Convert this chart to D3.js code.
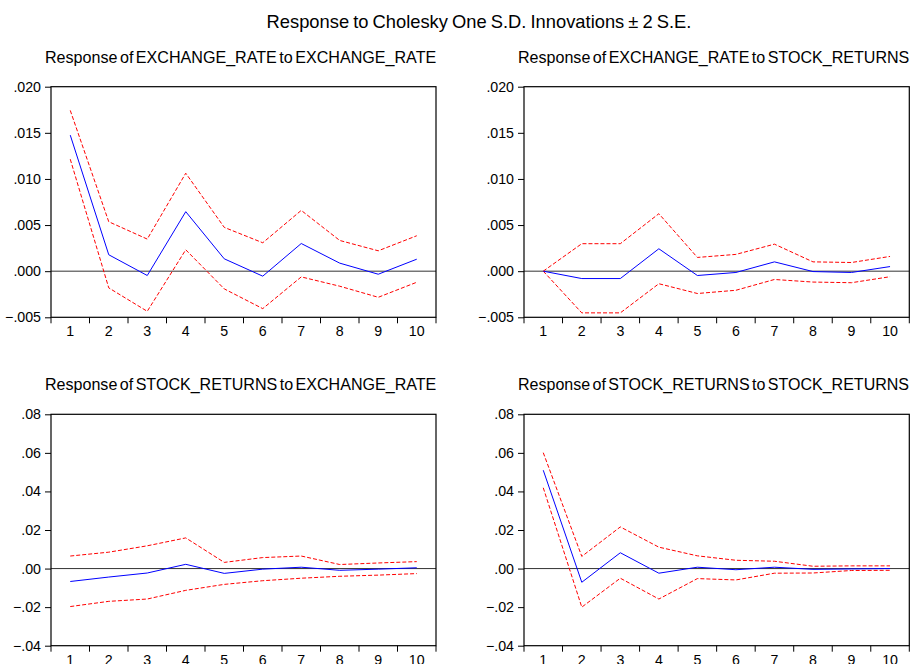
<!DOCTYPE html>
<html>
<head>
<meta charset="utf-8">
<script src="https://cdn.jsdelivr.net/npm/d3@7"></script>
<style>
  html, body { margin: 0; padding: 0; background: #fff; }
  svg { display: block; font-family: "Liberation Sans", Arial, sans-serif; }
</style>
</head>
<body>
<svg id="chart" width="911" height="664"></svg>
<script>
// Forecast horizon (periods)
const periods = [1, 2, 3, 4, 5, 6, 7, 8, 9, 10];

// Response of EXCHANGE_RATE to EXCHANGE_RATE
const erEr     = [0.01475, 0.00178, -0.00047, 0.00645, 0.00134, -0.00054, 0.00300, 0.00087, -0.00033, 0.00130];
const erErHigh = [0.01743, 0.00536, 0.00348, 0.01062, 0.00475, 0.00308, 0.00659, 0.00333, 0.00221, 0.00384];
const erErLow  = [0.01214, -0.00181, -0.00435, 0.00232, -0.00192, -0.00406, -0.00062, -0.00163, -0.00283, -0.00120];

// Response of EXCHANGE_RATE to STOCK_RETURNS
const erSr     = [0.0, -0.00080, -0.00080, 0.00243, -0.00047, -0.00014, 0.00101, -0.00004, -0.00014, 0.00050];
const erSrHigh = [0.0, 0.00298, 0.00298, 0.00623, 0.00149, 0.00182, 0.00293, 0.00101, 0.00094, 0.00160];
const erSrLow  = [0.0, -0.00452, -0.00452, -0.00136, -0.00242, -0.00207, -0.00090, -0.00118, -0.00125, -0.00060];

// Response of STOCK_RETURNS to EXCHANGE_RATE
const srEr     = [-0.0067, -0.0044, -0.0023, 0.0022, -0.0025, -0.0003, 0.0007, -0.0009, -0.0003, 0.0004];
const srErHigh = [0.0065, 0.0085, 0.0118, 0.0159, 0.0032, 0.0057, 0.0065, 0.0021, 0.0029, 0.0036];
const srErLow  = [-0.0197, -0.0170, -0.0158, -0.0113, -0.0082, -0.0063, -0.0050, -0.0040, -0.0034, -0.0026];

// Response of STOCK_RETURNS to STOCK_RETURNS
const srSr     = [0.0510, -0.0071, 0.0082, -0.0024, 0.0007, -0.0006, 0.0007, -0.0004, -0.0002, 0.0000];
const srSrHigh = [0.0601, 0.0063, 0.0216, 0.0111, 0.0066, 0.0043, 0.0038, 0.0012, 0.0014, 0.0014];
const srSrLow  = [0.0419, -0.0200, -0.0050, -0.0158, -0.0052, -0.0059, -0.0024, -0.0023, -0.0010, -0.0009];

// Y-axis tick values
const ticksEr = [-0.005, 0.000, 0.005, 0.010, 0.015, 0.020];
const ticksSr = [-0.04, -0.02, 0.00, 0.02, 0.04, 0.06, 0.08];

const mainTitle = "Response to Cholesky One S.D. Innovations \u00B1 2 S.E.";

const panels = [
  { title: "Response of EXCHANGE_RATE to EXCHANGE_RATE", mid: erEr, hi: erErHigh, lo: erErLow, ticks: ticksEr, digits: 3, col: 0, row: 0 },
  { title: "Response of EXCHANGE_RATE to STOCK_RETURNS", mid: erSr, hi: erSrHigh, lo: erSrLow, ticks: ticksEr, digits: 3, col: 1, row: 0 },
  { title: "Response of STOCK_RETURNS to EXCHANGE_RATE", mid: srEr, hi: srErHigh, lo: srErLow, ticks: ticksSr, digits: 2, col: 0, row: 1 },
  { title: "Response of STOCK_RETURNS to STOCK_RETURNS", mid: srSr, hi: srSrHigh, lo: srSrLow, ticks: ticksSr, digits: 2, col: 1, row: 1 }
];

const svg = d3.select("#chart");

// Scale a text element so that it spans the given width
function fitWidth(sel, baseSize, width) {
  const w = sel.node().getComputedTextLength();
  sel.attr("font-size", baseSize * width / w);
}

// Overall title
const mt = svg.append("text")
  .attr("x", 479).attr("y", 28)
  .attr("text-anchor", "middle")
  .attr("font-size", 16)
  .attr("word-spacing", -1)
  .attr("fill", "#000")
  .text(mainTitle);
fitWidth(mt, 16, 424);

// Plot-area geometry per column / row
const colX = [[51, 436], [524, 909.3]];
const rowY = [[86.7, 317.3], [414.3, 645.7]];
const tickFont = 14.2;

panels.forEach(p => {
  const [x0, x1] = colX[p.col];
  const [y0, y1] = rowY[p.row];
  const g = svg.append("g");

  const x = d3.scaleBand().domain(periods).range([x0, x1]).padding(0);
  const y = d3.scaleLinear().domain([p.ticks[0], p.ticks[p.ticks.length - 1]]).range([y1, y0]);
  const cx = d => x(d) + x.bandwidth() / 2;

  // Panel title
  const t = g.append("text")
    .attr("x", x0 - 6)
    .attr("y", y0 - 24)
    .attr("text-anchor", "start")
    .attr("font-size", 15)
    .attr("word-spacing", -2)
    .attr("fill", "#000")
    .text(p.title);
  fitWidth(t, 15, 391);

  // Zero reference line
  g.append("line")
    .attr("x1", x0).attr("x2", x1)
    .attr("y1", y(0)).attr("y2", y(0))
    .attr("stroke", "#333").attr("stroke-width", 1);

  // Y axis
  const fmt = d3.format("." + p.digits + "f");
  const yAxis = d3.axisLeft(y)
    .tickValues(p.ticks)
    .tickSize(6)
    .tickPadding(4)
    .tickFormat(v => fmt(v).replace("0.", "."));
  const ya = g.append("g").attr("transform", `translate(${x0},0)`).call(yAxis);
  ya.select(".domain").remove();
  ya.selectAll(".tick line").attr("stroke", "#000");
  ya.selectAll(".tick text").attr("font-size", tickFont).attr("fill", "#000")
    .attr("font-family", "Liberation Sans, Arial, sans-serif");

  // X axis: labels at band centres, tick marks at band edges
  const xAxis = d3.axisBottom(x).tickSize(0).tickPadding(9);
  const xa = g.append("g").attr("transform", `translate(0,${y1})`).call(xAxis);
  xa.select(".domain").remove();
  xa.selectAll(".tick text").attr("font-size", tickFont).attr("fill", "#000")
    .attr("font-family", "Liberation Sans, Arial, sans-serif");
  const edges = periods.map(d => x(d)).concat([x(periods[periods.length - 1]) + x.bandwidth()]);
  g.selectAll("line.xtick").data(edges).join("line")
    .attr("class", "xtick")
    .attr("x1", d => d).attr("x2", d => d)
    .attr("y1", y1).attr("y2", y1 + 6)
    .attr("stroke", "#000");

  // Lines
  const line = d3.line().x((d, i) => cx(periods[i])).y(d => y(d));
  g.append("path").datum(p.hi).attr("d", line)
    .attr("fill", "none").attr("stroke", "#ff0000").attr("stroke-width", 1)
    .attr("stroke-dasharray", "4,2");
  g.append("path").datum(p.lo).attr("d", line)
    .attr("fill", "none").attr("stroke", "#ff0000").attr("stroke-width", 1)
    .attr("stroke-dasharray", "4,2");
  g.append("path").datum(p.mid).attr("d", line)
    .attr("fill", "none").attr("stroke", "#0000ff").attr("stroke-width", 1);

  // Frame
  g.append("rect")
    .attr("x", x0).attr("y", y0)
    .attr("width", x1 - x0).attr("height", y1 - y0)
    .attr("fill", "none").attr("stroke", "#000").attr("stroke-width", 1.2);
});
</script>
</body>
</html>
